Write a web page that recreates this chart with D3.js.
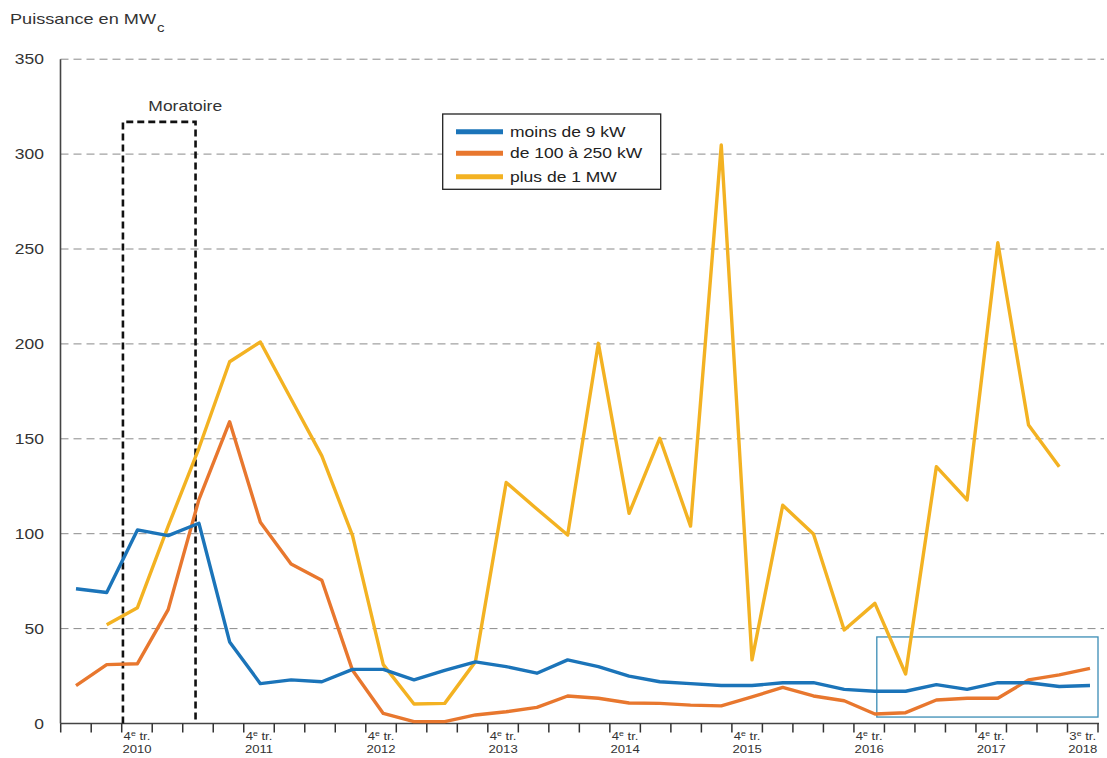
<!DOCTYPE html>
<html><head><meta charset="utf-8">
<script src="https://cdn.jsdelivr.net/npm/d3@7"></script>
<style>
html,body{margin:0;padding:0;background:#fff;}
svg{display:block;font-family:"Liberation Sans",Arial,sans-serif;}
</style></head>
<body><svg id="chart" width="1107" height="758"></svg>
<script>
// ---- data (quarters Q2 2010 .. Q3 2018) ----
const quarters = d3.range(34); // index 0 = 2e tr. 2010
const blueValues = [71, 69, 102, 99, 105.5, 43, 21, 23, 22, 28.5, 28.5, 23, 28, 32.5, 30, 26.5, 33.5, 30, 25, 22, 21, 20, 20, 21.5, 21.5, 18, 17, 17, 20.5, 18, 21.5, 21.5, 19.5, 20];
const orangeValues = [20, 31, 31.5, 60, 118, 159, 106, 84, 75.5, 28, 5.3, 1, 1, 4.5, 6.2, 8.5, 14.5, 13.3, 10.8, 10.6, 9.7, 9.3, 14, 19, 14.5, 12, 5, 5.7, 12.4, 13.3, 13.3, 23, 25.6, 29];
const yellowValues = [null, 52, 61, 104, 145, 190.6, 201, 171, 141, 99, 31, 10.3, 10.6, 32.6, 127, 113, 99.3, 200.3, 110.7, 150.3, 104, 304.8, 33.5, 115, 99.8, 49.3, 63.3, 26.1, 135.3, 117.8, 253.3, 157.3, 135.3, null];
const seriesNames = ["moins de 9 kW", "de 100 à 250 kW", "plus de 1 MW"];
const seriesColors = ["#1b74b9", "#e8772e", "#f3b222"];
const yTicks = [0, 50, 100, 150, 200, 250, 300, 350];
const tickLabelIdx = [2, 6, 10, 14, 18, 22, 26, 30, 33];
const tickLabelTop = ["4", "4", "4", "4", "4", "4", "4", "4", "3"];
const tickLabelYear = ["2010", "2011", "2012", "2013", "2014", "2015", "2016", "2017", "2018"];
const moratoire = {start: 2.04, end: 4.42, top: 317, label: "Moratoire"};
const highlight = {start: 26.75, end: 34, top: 45.6, bottom: 3.4};

const svg = d3.select("#chart");
const SX = 1.25; // horizontal text stretch of the original

const y = d3.scaleLinear().domain([0, 350]).range([723.5, 59.2]);
const xPt = d3.scaleLinear().domain([0, 33]).range([76, 1090]);
const xTk = d3.scaleLinear().domain([0, 34]).range([60.7, 1098]);
const X0 = 60.5, X1 = 1104;

function txt(g, x, yy, s, size, anchor, fill) {
  return g.append("text").attr("transform", `translate(${x},${yy}) scale(${SX},1)`)
    .attr("font-size", size).attr("text-anchor", anchor || "start").attr("fill", fill || "#2b2b2b").text(s);
}

// title
txt(svg, 10, 24, "Puissance en MW", 14.5, "start", "#333");
txt(svg, 157, 32, "c", 12, "start", "#333");

// grid lines
svg.append("g").selectAll("line").data(yTicks.filter(d => d > 0)).join("line")
  .attr("x1", X0).attr("x2", X1).attr("y1", d => y(d)).attr("y2", d => y(d))
  .attr("stroke", "#8a8a8a").attr("stroke-width", 1).attr("stroke-dasharray", "8,5");

// y labels
const yl = svg.append("g");
yTicks.forEach(d => txt(yl, 44, y(d) + 5, String(d), 14, "end", "#333"));

// axes lines
svg.append("line").attr("x1", X0).attr("x2", X0).attr("y1", y(350)).attr("y2", y(0))
  .attr("stroke", "#444").attr("stroke-width", 1.6);
svg.append("line").attr("x1", X0).attr("x2", xTk(34) + 1).attr("y1", y(0)).attr("y2", y(0))
  .attr("stroke", "#444").attr("stroke-width", 1.6);
// x ticks
svg.append("g").selectAll("line").data(d3.range(35)).join("line")
  .attr("x1", d => xTk(d)).attr("x2", d => xTk(d)).attr("y1", y(0)).attr("y2", y(0) + 9)
  .attr("stroke", "#333").attr("stroke-width", 1.5);
// x labels
const xl = svg.append("g");
tickLabelIdx.forEach((q, i) => {
  const cx = xTk(q + 0.5);
  const t = xl.append("text").attr("transform", `translate(${cx},740) scale(${SX},1)`)
    .attr("font-size", 10.5).attr("text-anchor", "middle").attr("fill", "#333");
  t.append("tspan").text(tickLabelTop[i]);
  t.append("tspan").attr("font-size", 7).attr("dy", -4).text("e");
  t.append("tspan").attr("dy", 4).text(" tr.");
  txt(xl, cx, 753, tickLabelYear[i], 10.5, "middle", "#333");
});

// moratoire box
const mg = svg.append("g").attr("fill", "none").attr("stroke", "#111").attr("stroke-width", 2.6).attr("stroke-dasharray", "7,4");
mg.append("path").attr("d", `M${xTk(moratoire.start)},${y(0)}V${y(moratoire.top)}H${xTk(moratoire.end)}V${y(0)}`);
txt(svg, (xTk(moratoire.start) + xTk(moratoire.end)) / 2 + 26, 111, moratoire.label, 14, "middle", "#333");

// highlight rectangle
svg.append("rect").attr("x", xTk(highlight.start)).attr("y", y(highlight.top))
  .attr("width", xTk(highlight.end) - xTk(highlight.start)).attr("height", y(highlight.bottom) - y(highlight.top))
  .attr("fill", "none").attr("stroke", "#3b8db5").attr("stroke-width", 1.3);

// lines
const line = d3.line().defined(d => d[1] != null).x(d => xPt(d[0])).y(d => y(d[1]));
[yellowValues, orangeValues, blueValues].forEach((vals, k) => {
  const ci = 2 - k;
  svg.append("path").datum(quarters.map(i => [i, vals[i]]))
    .attr("d", line).attr("fill", "none").attr("stroke", seriesColors[ci])
    .attr("stroke-width", 3.4).attr("stroke-linejoin", "round");
});

// legend
const lg = svg.append("g");
lg.append("rect").attr("x", 442.7).attr("y", 114).attr("width", 218).attr("height", 75.3)
  .attr("fill", "#fff").attr("stroke", "#222").attr("stroke-width", 1.3);
const ly = [131.7, 153.3, 176.7];
seriesNames.forEach((n, i) => {
  lg.append("line").attr("x1", 456).attr("x2", 503).attr("y1", ly[i]).attr("y2", ly[i])
    .attr("stroke", seriesColors[i]).attr("stroke-width", 5);
  txt(lg, 510, ly[i] + 5, n, 14, "start", "#222");
});
</script></body></html>
